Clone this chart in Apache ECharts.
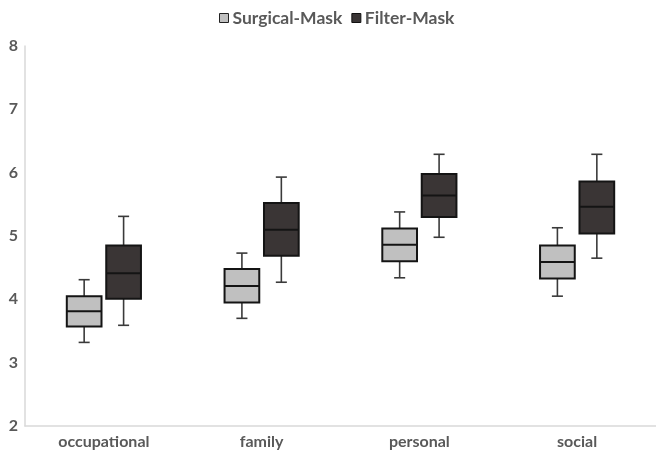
<!DOCTYPE html>
<html>
<head>
<meta charset="utf-8">
<script src="https://cdn.jsdelivr.net/npm/echarts@6/dist/echarts.min.js"></script>
<style>html,body{margin:0;padding:0;background:#fff}#c{width:656px;height:456px}</style>
</head>
<body>
<div id="c"></div>
<script>
// categories
const categories = ['occupational', 'family', 'personal', 'social'];
// [min, Q1, median, Q3, max]
const surgicalMask = [
  [3.32, 3.57, 3.81, 4.05, 4.31],
  [3.70, 3.95, 4.21, 4.48, 4.73],
  [4.34, 4.60, 4.86, 5.12, 5.38],
  [4.05, 4.33, 4.59, 4.85, 5.13]
];
const filterMask = [
  [3.59, 4.01, 4.41, 4.85, 5.31],
  [4.27, 4.69, 5.10, 5.52, 5.93],
  [4.98, 5.30, 5.64, 5.98, 6.29],
  [4.65, 5.04, 5.46, 5.86, 6.29]
];
const yTicks = [2, 3, 4, 5, 6, 7, 8];

const FONT = 'Lato, "Open Sans", sans-serif';
const TXT = '#595959';

function makeRender(offsetFrac, fill) {
  return function (params, api) {
    const i = api.value(0);
    const band = api.size([1, 0])[0];
    const cx = api.coord([i, 0])[0] + offsetFrac * band;
    const y = (d) => api.coord([i, api.value(d)])[1];
    const yMin = y(1), yQ1 = y(2), yMed = y(3), yQ3 = y(4), yMax = y(5);
    const bw = band * 0.22;
    const cw = band * 0.07;
    const wStyle = { stroke: '#3a3a3a', lineWidth: 1.6 };
    const bStyle = { stroke: '#141414', lineWidth: 2 };
    return {
      type: 'group',
      children: [
        { type: 'line', shape: { x1: cx, y1: yMax, x2: cx, y2: yQ3 }, style: wStyle },
        { type: 'line', shape: { x1: cx, y1: yQ1, x2: cx, y2: yMin }, style: wStyle },
        { type: 'line', shape: { x1: cx - cw / 2, y1: yMax, x2: cx + cw / 2, y2: yMax }, style: wStyle },
        { type: 'line', shape: { x1: cx - cw / 2, y1: yMin, x2: cx + cw / 2, y2: yMin }, style: wStyle },
        { type: 'rect', shape: { x: cx - bw / 2, y: yQ3, width: bw, height: yQ1 - yQ3 }, style: Object.assign({ fill: fill }, bStyle) },
        { type: 'line', shape: { x1: cx - bw / 2, y1: yMed, x2: cx + bw / 2, y2: yMed }, style: bStyle }
      ]
    };
  };
}

function toData(arr) {
  return arr.map((r, i) => [i].concat(r));
}

const chart = echarts.init(document.getElementById('c'));
chart.setOption({
  animation: false,
  backgroundColor: '#fff',
  legend: {
    top: 4,
    left: 214,
    itemWidth: 9,
    itemHeight: 9,
    itemGap: 9,
    textStyle: { color: TXT, fontFamily: FONT, fontSize: 17.5, fontWeight: 'bold', padding: [0, 0, 0, -1] },
    data: [
      { name: 'Surgical-Mask', icon: 'rect', itemStyle: { color: '#c0c0c0', borderColor: '#222', borderWidth: 1 } },
      { name: 'Filter-Mask', icon: 'rect', itemStyle: { color: '#3a3535', borderColor: '#111', borderWidth: 1 } }
    ]
  },
  grid: { left: 25, right: -4, top: 46, bottom: 30 },
  xAxis: {
    type: 'category',
    data: categories,
    axisLine: { lineStyle: { color: '#d9d9d9', width: 1.5 } },
    axisTick: { show: false },
    axisLabel: { color: TXT, fontFamily: FONT, fontSize: 16, fontWeight: 'bold', margin: 8 }
  },
  yAxis: {
    type: 'value',
    min: yTicks[0],
    max: yTicks[yTicks.length - 1],
    interval: 1,
    axisLine: { show: true, lineStyle: { color: '#d9d9d9', width: 1.5 } },
    axisTick: { show: false },
    splitLine: { show: false },
    axisLabel: { color: TXT, fontFamily: FONT, fontSize: 16, fontWeight: 'bold', margin: 7 }
  },
  series: [
    {
      name: 'Surgical-Mask',
      type: 'custom',
      itemStyle: { color: '#c0c0c0' },
      encode: { x: 0, y: [1, 2, 3, 4, 5] },
      renderItem: makeRender(-0.125, '#c0c0c0'),
      data: toData(surgicalMask)
    },
    {
      name: 'Filter-Mask',
      type: 'custom',
      itemStyle: { color: '#3a3535' },
      encode: { x: 0, y: [1, 2, 3, 4, 5] },
      renderItem: makeRender(0.125, '#3a3535'),
      data: toData(filterMask)
    }
  ]
});
</script>
</body>
</html>
